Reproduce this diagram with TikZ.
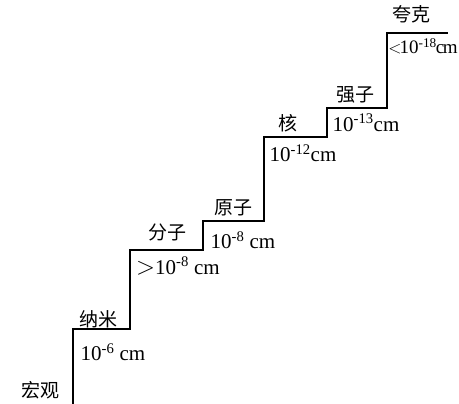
\documentclass[tikz,border=0pt]{standalone}
\usepackage{fontspec}
\setmainfont{Liberation Serif}
\newfontfamily\cjk{Noto Sans CJK SC}
\begin{document}
\begin{tikzpicture}[x=1pt,y=-1pt,
  lbl/.style={inner sep=0pt,font=\cjk\fontsize{19}{19}\selectfont},
  val/.style={inner sep=0pt,font=\fontsize{21}{21}\selectfont}]
\useasboundingbox[fill=white] (0,0) rectangle (459,404);
\coordinate (s0) at (73,404);
\coordinate (s1) at (73,329);
\coordinate (s2) at (130,329);
\coordinate (s3) at (130,250);
\coordinate (s4) at (203,250);
\coordinate (s5) at (203,221);
\coordinate (s6) at (264,221);
\coordinate (s7) at (264,137);
\coordinate (s8) at (327,137);
\coordinate (s9) at (327,108);
\coordinate (s10) at (387,108);
\coordinate (s11) at (387,33);
\coordinate (s12) at (448,33);
\draw[line width=2.2pt] (s0) -- (s1) -- (s2) -- (s3) -- (s4) -- (s5) -- (s6) -- (s7) -- (s8) -- (s9) -- (s10) -- (s11) -- (s12);
\node[lbl] (hg) at (40,390) {宏观};
\node[lbl] (nm) at (98,319) {纳米};
\node[val] (v1) at (113,352) {10\textsuperscript{-6} cm};
\node[val] (v2) at (178,266) {\fontsize{26}{26}\selectfont$>$\fontsize{21}{21}\selectfont10\textsuperscript{-8} cm};
\node[lbl] (fz) at (167,232) {分子};
\node[lbl] (yz) at (233,208) {原子};
\node[val] (v3) at (243,240) {10\textsuperscript{-8} cm};
\node[lbl] (he) at (288,123) {核};
\node[val] (v4) at (303,153) {10\textsuperscript{-12}cm};
\node[lbl] (qz) at (355,95) {强子};
\node[val] (v5) at (366,123) {10\textsuperscript{-13}cm};
\node[lbl] (kk) at (411,14) {夸克};
\node[val,font=\fontsize{19}{19}\selectfont] (v6) at (423,46) {$<$\kern-2pt10\textsuperscript{-18}\kern-1pt c\kern-1.5pt m};
\end{tikzpicture}
\end{document}
